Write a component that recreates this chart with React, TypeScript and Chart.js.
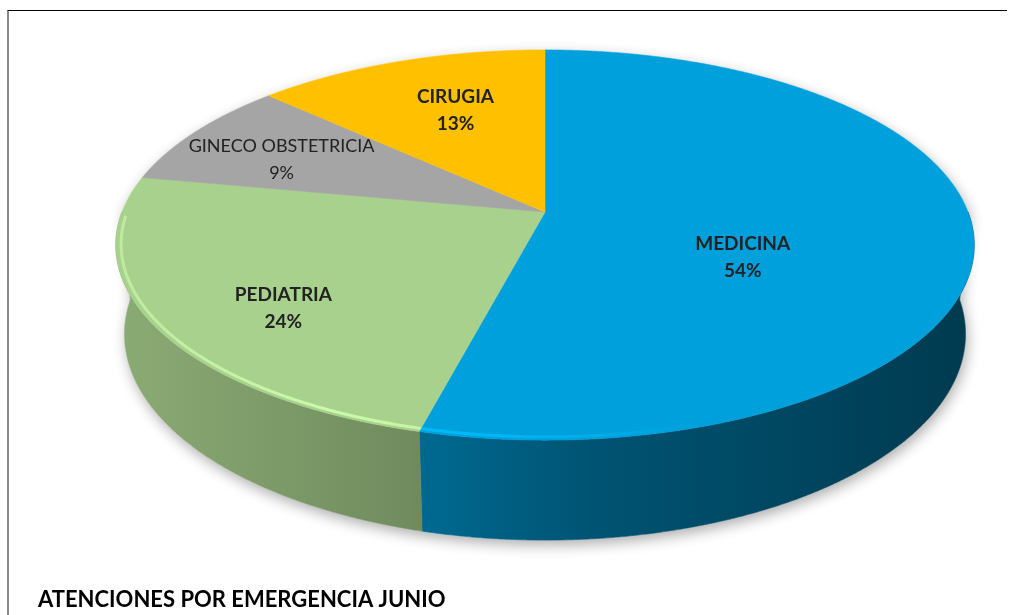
import React, { useEffect, useRef } from 'react';
import { Chart, registerables } from 'chart.js';

Chart.register(...registerables);

// ---- data ----
const categories = ['MEDICINA', 'PEDIATRIA', 'GINECO OBSTETRICIA', 'CIRUGIA'];
const percentages = [54, 24, 9, 13];
const sliceColors = ['#00A0DC', '#A9D18E', '#A5A5A5', '#FFC000'];
const chartTitle = 'ATENCIONES POR EMERGENCIA JUNIO';

// ---- label placement (style) ----
const labelRadius = [0.47, 0.69, 0.74, 0.58];
const labelLift = [0.09, 0.054, 0.023, -0.026];
const labelWeight = ['bold', 'bold', 'normal', 'bold'];
const labelSize = [19, 19, 18, 19];

// ---- 3D projection (layout) ----
const VIEW = { cx: 545, cy: 212, scale: 423, dist: 5.28, tilt: Math.asin(0.448), depth: 0.237 };

function project(u: number, v: number, h: number): [number, number] {
  const s = Math.sin(VIEW.tilt);
  const c = Math.cos(VIEW.tilt);
  const zc = VIEW.dist - v * c + h * s;
  const yc = v * s + h * c;
  const k = (VIEW.scale * VIEW.dist) / zc;
  return [VIEW.cx + u * k, VIEW.cy + yc * k];
}

function hexToRgb(hex: string): number[] {
  const n = parseInt(hex.slice(1), 16);
  return [(n >> 16) & 255, (n >> 8) & 255, n & 255];
}
function shade(hex: string, f: number, a = 1): string {
  const [r, g, b] = hexToRgb(hex).map((x) => Math.max(0, Math.min(255, Math.round(x * f))));
  return `rgba(${r},${g},${b},${a})`;
}

const rim = (t: number, h: number, r = 1) => project(r * Math.cos(t), r * Math.sin(t), h);

const pie3d = {
  id: 'pie3d',
  beforeDatasetsDraw(chart: any, _args: any, opts: any) {
    const ctx: CanvasRenderingContext2D = chart.ctx;
    const meta = chart.getDatasetMeta(0);
    const arcs: any[] = meta.data;
    const colors: string[] = chart.data.datasets[0].backgroundColor;
    const values: number[] = chart.data.datasets[0].data;
    const total = values.reduce((a, b) => a + b, 0);
    const step = 0.004;
    const D = VIEW.depth;

    // silhouette with soft drop shadow
    ctx.save();
    ctx.beginPath();
    let first = true;
    for (let t = 0; t <= Math.PI + 1e-9; t += step) {
      const [x, y] = rim(t, D);
      if (first) { ctx.moveTo(x, y); first = false; } else ctx.lineTo(x, y);
    }
    for (let t = Math.PI; t <= 2 * Math.PI + 1e-9; t += step) {
      const [x, y] = rim(t, 0);
      ctx.lineTo(x, y);
    }
    ctx.closePath();
    ctx.shadowColor = 'rgba(0,0,0,0.32)';
    ctx.shadowBlur = 14;
    ctx.shadowOffsetY = 5;
    ctx.shadowOffsetX = 2;
    ctx.fillStyle = '#ffffff';
    ctx.fill();
    ctx.restore();

    const left = rim(Math.PI * 0.95, 0)[0];
    const right = rim(Math.PI * 0.05, 0)[0];

    // outer walls (front half only)
    arcs.forEach((arc, i) => {
      const a = Math.max(arc.startAngle, 0);
      const b = Math.min(arc.endAngle, Math.PI);
      if (b <= a) return;
      const n = Math.max(2, Math.ceil((b - a) / step));
      ctx.save();
      ctx.beginPath();
      for (let k = 0; k <= n; k++) {
        const [x, y] = rim(a + ((b - a) * k) / n, 0);
        if (k === 0) ctx.moveTo(x, y); else ctx.lineTo(x, y);
      }
      for (let k = n; k >= 0; k--) {
        const [x, y] = rim(a + ((b - a) * k) / n, D);
        ctx.lineTo(x, y);
      }
      ctx.closePath();
      const g = ctx.createLinearGradient(left, 0, right, 0);
      g.addColorStop(0, shade(colors[i], 0.82));
      g.addColorStop(0.34, shade(colors[i], 0.67));
      g.addColorStop(0.56, shade(colors[i], 0.52));
      g.addColorStop(1, shade(colors[i], 0.36));
      ctx.fillStyle = g;
      ctx.fill();
      ctx.strokeStyle = g;
      ctx.lineWidth = 0.6;
      ctx.stroke();
      ctx.restore();
    });

    // top faces
    const facePath = (arc: any) => {
      const [ax, ay] = project(0, 0, 0);
      ctx.beginPath();
      ctx.moveTo(ax, ay);
      const n = Math.max(2, Math.ceil((arc.endAngle - arc.startAngle) / step));
      for (let k = 0; k <= n; k++) {
        const [x, y] = rim(arc.startAngle + ((arc.endAngle - arc.startAngle) * k) / n, 0);
        ctx.lineTo(x, y);
      }
      ctx.closePath();
    };
    arcs.forEach((arc, i) => {
      ctx.save();
      facePath(arc);
      ctx.fillStyle = colors[i];
      ctx.fill();
      ctx.strokeStyle = colors[i];
      ctx.lineWidth = 0.6;
      ctx.stroke();
      ctx.restore();
    });

    // bevel highlight along the front rim
    arcs.forEach((arc, i) => {
      const a = Math.max(arc.startAngle, 0.05);
      const b = Math.min(arc.endAngle, Math.PI - 0.02);
      if (b <= a) return;
      ctx.save();
      facePath(arc);
      ctx.clip();
      const n = Math.max(2, Math.ceil((b - a) / step));
      ctx.beginPath();
      for (let k = 0; k <= n; k++) {
        const [x, y] = rim(a + ((b - a) * k) / n, 0, 0.988);
        if (k === 0) ctx.moveTo(x, y); else ctx.lineTo(x, y);
      }
      const g = ctx.createLinearGradient(left, 0, right, 0);
      g.addColorStop(0, shade(colors[i], 1.2, 0.6));
      g.addColorStop(0.25, shade(colors[i], 1.2, 1));
      g.addColorStop(0.45, shade(colors[i], 1.2, 0.7));
      g.addColorStop(0.68, shade(colors[i], 1.2, 0.0));
      g.addColorStop(1, shade(colors[i], 1.2, 0.0));
      ctx.strokeStyle = g;
      ctx.lineWidth = 3;
      ctx.stroke();
      ctx.restore();
    });

    // labels
    const lr: number[] = opts.labelRadius;
    const ll: number[] = opts.labelLift;
    const lw: string[] = opts.labelWeight;
    const ls: number[] = opts.labelSize;
    arcs.forEach((arc, i) => {
      const mid = (arc.startAngle + arc.endAngle) / 2;
      const [x, y] = project(lr[i] * Math.cos(mid), lr[i] * Math.sin(mid), ll[i]);
      ctx.save();
      ctx.font = `${lw[i]} ${ls[i]}px Lato`;
      ctx.fillStyle = '#222222';
      ctx.textAlign = 'center';
      ctx.textBaseline = 'middle';
      ctx.fillText(String(chart.data.labels[i]), x, y - 13.5);
      ctx.fillText(Math.round((values[i] / total) * 100) + '%', x, y + 13.5);
      ctx.restore();
    });

    return false;
  },
};

export default function App() {
  const ref = useRef<HTMLCanvasElement | null>(null);

  useEffect(() => {
    if (!ref.current) return;
    const chart = new Chart(ref.current, {
      type: 'pie',
      data: {
        labels: categories,
        datasets: [
          {
            data: percentages,
            backgroundColor: sliceColors,
            borderWidth: 0,
          },
        ],
      },
      options: {
        animation: false,
        responsive: false,
        rotation: 0,
        layout: { padding: { left: 38, bottom: 2, top: 0, right: 0 } },
        plugins: {
          legend: { display: false },
          tooltip: { enabled: false },
          title: {
            display: true,
            text: chartTitle,
            position: 'bottom',
            align: 'start',
            color: '#000000',
            font: { family: 'Lato', size: 22, weight: 'bold' },
            padding: { top: 0, bottom: 0 },
          },
          pie3d: { labelRadius, labelLift, labelWeight, labelSize },
        } as any,
      },
      plugins: [pie3d as any],
    });
    return () => chart.destroy();
  }, []);

  return (
    <div style={{ position: 'fixed', left: 0, top: 0, width: 1011, height: 615, background: '#fff', overflow: 'hidden' }}>
      <div
        style={{
          position: 'absolute',
          left: 7,
          top: 10,
          width: 998,
          height: 700,
          borderTop: '1.5px solid #000',
          borderLeft: '2px solid #8a8a8a',
        }}
      />
      <canvas ref={ref} width={1011} height={615} style={{ position: 'absolute', left: 0, top: 0 }} />
    </div>
  );
}
